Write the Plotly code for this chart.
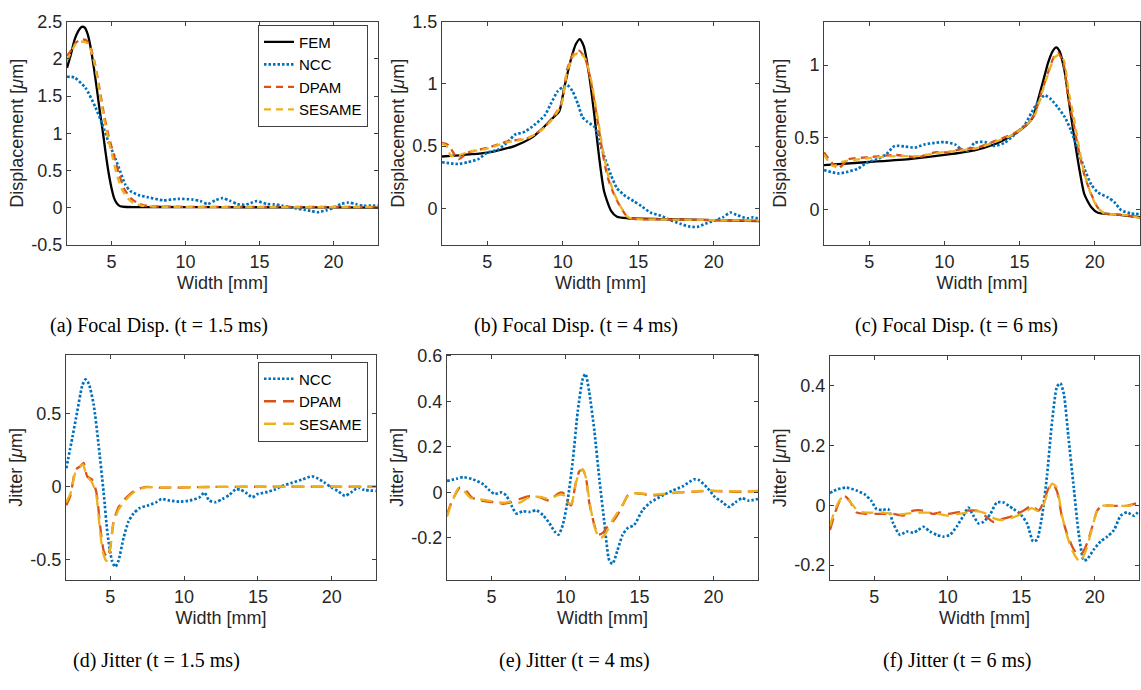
import plotly.graph_objects as go

# ---------------- data ----------------
# (a) Focal displacement, t = 1.5 ms
A_FEM_X = [2.0, 2.25, 2.5, 2.75, 3.0, 3.2, 3.4, 3.6, 3.8, 4.0, 4.2, 4.4, 4.6, 4.8, 5.0, 5.2, 5.4, 5.6, 6.0, 8.0, 12.0, 16.0, 20.0, 23.0]
A_FEM_Y = [1.88, 2.05, 2.25, 2.37, 2.43, 2.42, 2.33, 2.15, 1.9, 1.62, 1.32, 1.05, 0.75, 0.48, 0.27, 0.12, 0.05, 0.02, 0.01, 0.01, 0.008, 0.006, 0.004, 0.003]
A_NCC_X = [2.0, 2.5, 3.25, 3.92, 4.37, 4.82, 5.27, 5.6, 5.94, 6.28, 6.84, 7.5, 8.5, 9.5, 10.5, 11.0, 11.5, 12.0, 12.5, 13.0, 13.5, 14.0, 14.5, 14.8, 15.5, 16.0, 16.5, 17.0, 17.5, 18.0, 18.5, 18.9, 19.5, 20.0, 20.5, 21.0, 21.5, 22.0, 22.5, 23.0]
A_NCC_Y = [1.76, 1.75, 1.61, 1.35, 1.13, 0.875, 0.66, 0.485, 0.31, 0.225, 0.17, 0.14, 0.10, 0.12, 0.11, 0.09, 0.05, 0.10, 0.13, 0.095, 0.05, 0.04, 0.07, 0.09, 0.05, 0.045, 0.03, 0.01, -0.01, -0.025, -0.045, -0.06, -0.035, 0.0, 0.05, 0.07, 0.05, 0.025, 0.03, 0.03]
A_DPAM_X = [2.0, 2.3, 2.6, 3.0, 3.3, 3.6, 3.9, 4.2, 4.5, 4.8, 5.15, 5.5, 5.85, 6.3, 6.8, 7.3, 8.0, 12.0, 23.0]
A_DPAM_Y = [2.04, 2.12, 2.22, 2.26, 2.25, 2.15, 1.92, 1.6, 1.25, 0.97, 0.72, 0.46, 0.26, 0.13, 0.06, 0.03, 0.017, 0.012, 0.01]
A_SES_X = [2.0, 2.3, 2.6, 3.0, 3.3, 3.6, 3.9, 4.2, 4.5, 4.8, 5.1, 5.4, 5.7, 6.1, 6.5, 7.0, 8.0, 12.0, 23.0]
A_SES_Y = [1.98, 2.1, 2.2, 2.23, 2.22, 2.12, 1.9, 1.55, 1.2, 0.92, 0.66, 0.42, 0.25, 0.13, 0.06, 0.03, 0.015, 0.01, 0.01]

# (b) Focal displacement, t = 4 ms
B_FEM_X = [2.0, 5.0, 6.8, 7.9, 8.56, 9.2, 9.77, 10.1, 10.55, 10.87, 11.13, 11.4, 11.75, 12.08, 12.4, 12.74, 13.2, 13.6, 14.3, 17.0, 20.0, 23.0]
B_FEM_Y = [0.416, 0.447, 0.5, 0.564, 0.63, 0.71, 0.78, 0.97, 1.2, 1.32, 1.36, 1.30, 1.07, 0.76, 0.42, 0.135, -0.02, -0.068, -0.08, -0.088, -0.095, -0.104]
B_NCC_X = [2.0, 3.07, 3.7, 4.4, 5.0, 5.7, 6.5, 6.8, 7.5, 8.1, 8.8, 9.2, 9.66, 10.0, 10.3, 10.65, 11.0, 11.3, 11.64, 12.1, 12.4, 12.74, 13.2, 13.6, 14.17, 14.7, 15.2, 15.8, 16.5, 17.1, 17.8, 18.35, 18.9, 19.44, 20.0, 20.6, 21.1, 21.5, 22.2, 22.6, 23.0]
B_NCC_Y = [0.37, 0.356, 0.37, 0.395, 0.447, 0.47, 0.55, 0.59, 0.616, 0.668, 0.746, 0.837, 0.94, 0.975, 0.99, 0.94, 0.84, 0.733, 0.694, 0.655, 0.55, 0.42, 0.265, 0.16, 0.096, 0.057, 0.018, -0.034, -0.06, -0.094, -0.125, -0.146, -0.15, -0.125, -0.1, -0.073, -0.034, -0.052, -0.08, -0.073, -0.086]
B_DPAM_X = [2.0, 2.4, 3.1, 3.7, 5.0, 6.36, 7.7, 8.56, 9.2, 9.9, 10.3, 10.75, 11.1, 11.5, 11.86, 12.3, 12.64, 12.97, 13.4, 13.85, 14.3, 14.7, 17.0, 20.0, 23.0]
B_DPAM_Y = [0.525, 0.51, 0.395, 0.447, 0.486, 0.538, 0.564, 0.63, 0.707, 0.837, 1.12, 1.25, 1.266, 1.2, 1.02, 0.707, 0.447, 0.252, 0.11, 0.005, -0.073, -0.086, -0.09, -0.095, -0.1]
B_SES_X = [2.0, 2.3, 2.6, 3.2, 3.8, 5.0, 6.3, 7.6, 8.5, 9.2, 9.9, 10.3, 10.75, 11.1, 11.5, 11.86, 12.3, 12.64, 12.97, 13.4, 13.85, 14.3, 14.7, 17.0, 20.0, 23.0]
B_SES_Y = [0.52, 0.5, 0.42, 0.43, 0.455, 0.48, 0.53, 0.56, 0.62, 0.7, 0.83, 1.1, 1.23, 1.25, 1.2, 1.04, 0.74, 0.48, 0.28, 0.12, 0.01, -0.07, -0.085, -0.09, -0.095, -0.1]

# (c) Focal displacement, t = 6 ms
C_FEM_X = [2.0, 5.0, 7.8, 10.0, 12.0, 13.3, 14.2, 14.9, 15.55, 15.9, 16.2, 16.55, 16.9, 17.2, 17.43, 17.65, 18.0, 18.3, 18.65, 19.0, 19.3, 19.75, 20.2, 21.1, 22.2, 23.0]
C_FEM_Y = [0.307, 0.329, 0.351, 0.378, 0.41, 0.45, 0.495, 0.54, 0.595, 0.64, 0.75, 0.884, 1.018, 1.096, 1.122, 1.096, 0.951, 0.73, 0.484, 0.262, 0.107, 0.018, -0.022, -0.031, -0.044, -0.053]
C_NCC_X = [2.0, 2.94, 3.6, 4.27, 4.93, 5.6, 6.15, 6.7, 7.37, 8.03, 8.7, 9.36, 10.0, 10.7, 11.1, 11.57, 12.0, 12.7, 13.34, 14.0, 14.67, 15.33, 15.8, 16.2, 16.66, 17.1, 17.54, 18.0, 18.4, 18.87, 19.3, 19.76, 20.2, 20.86, 21.3, 21.75, 22.4, 23.0]
C_NCC_Y = [0.273, 0.25, 0.262, 0.284, 0.329, 0.351, 0.384, 0.44, 0.436, 0.429, 0.451, 0.462, 0.467, 0.451, 0.418, 0.407, 0.462, 0.467, 0.44, 0.462, 0.518, 0.584, 0.673, 0.74, 0.791, 0.762, 0.707, 0.64, 0.551, 0.418, 0.284, 0.173, 0.118, 0.084, 0.051, -0.004, -0.027, -0.031]
C_DPAM_X = [2.0, 2.94, 3.6, 4.93, 6.7, 8.25, 9.36, 10.2, 11.1, 12.2, 13.34, 14.67, 15.55, 16.0, 16.4, 16.9, 17.3, 17.54, 17.9, 18.2, 18.54, 18.87, 19.3, 19.76, 20.2, 20.64, 22.2, 23.0]
C_DPAM_Y = [0.396, 0.284, 0.347, 0.362, 0.378, 0.362, 0.396, 0.396, 0.418, 0.429, 0.473, 0.529, 0.596, 0.662, 0.796, 0.951, 1.062, 1.084, 1.018, 0.796, 0.618, 0.44, 0.24, 0.107, 0.013, -0.027, -0.04, -0.06]
C_SES_X = [2.0, 2.6, 3.2, 4.9, 6.7, 8.25, 9.4, 10.2, 11.1, 12.2, 13.3, 14.6, 15.5, 16.0, 16.4, 16.9, 17.3, 17.6, 17.95, 18.25, 18.6, 18.9, 19.3, 19.76, 20.2, 20.64, 22.2, 23.0]
C_SES_Y = [0.38, 0.3, 0.33, 0.355, 0.37, 0.37, 0.39, 0.4, 0.41, 0.425, 0.465, 0.52, 0.59, 0.65, 0.78, 0.94, 1.05, 1.07, 1.03, 0.82, 0.64, 0.46, 0.25, 0.1, 0.01, -0.025, -0.04, -0.06]

# (d) Jitter, t = 1.5 ms
D_NCC_X = [2.02, 2.43, 2.76, 3.1, 3.32, 3.55, 3.88, 4.2, 4.55, 4.82, 5.11, 5.34, 5.56, 5.9, 6.23, 6.57, 7.0, 7.57, 8.13, 8.47, 9.03, 9.7, 10.37, 11.04, 11.38, 11.7, 12.16, 12.6, 13.05, 13.5, 13.84, 14.17, 14.62, 14.96, 15.5, 16.2, 16.63, 17.3, 17.97, 18.65, 18.98, 19.54, 20.0, 20.4, 20.9, 21.3, 21.8, 22.2, 23.0]
D_NCC_Y = [0.124, 0.334, 0.511, 0.688, 0.732, 0.7, 0.555, 0.29, -0.042, -0.33, -0.507, -0.551, -0.507, -0.352, -0.241, -0.186, -0.148, -0.13, -0.108, -0.086, -0.097, -0.104, -0.097, -0.075, -0.042, -0.097, -0.108, -0.086, -0.06, -0.02, -0.024, -0.042, -0.075, -0.053, -0.042, -0.02, 0.002, 0.024, 0.046, 0.069, 0.058, 0.024, -0.009, -0.031, -0.064, -0.042, -0.009, -0.024, -0.031]
D_DPAM_X = [2.02, 2.3, 2.65, 2.99, 3.2, 3.43, 3.77, 4.06, 4.33, 4.55, 4.78, 5.0, 5.22, 5.56, 5.9, 6.34, 6.79, 7.46, 8.36, 12.0, 16.0, 20.0, 23.0]
D_DPAM_Y = [-0.13, -0.064, 0.113, 0.139, 0.16, 0.069, 0.046, -0.042, -0.285, -0.44, -0.485, -0.418, -0.241, -0.142, -0.097, -0.053, -0.02, -0.004, -0.009, -0.004, -0.002, -0.002, -0.002]
D_SES_X = [2.02, 2.3, 2.65, 3.0, 3.15, 3.4, 3.75, 4.05, 4.3, 4.5, 4.73, 4.95, 5.2, 5.55, 5.9, 6.35, 6.8, 7.5, 8.4, 12.0, 16.0, 20.0, 23.0]
D_SES_Y = [-0.108, -0.05, 0.1, 0.14, 0.15, 0.07, 0.03, -0.06, -0.3, -0.45, -0.51, -0.45, -0.26, -0.16, -0.11, -0.06, -0.025, -0.005, -0.008, -0.004, -0.002, -0.002, -0.002]

# (e) Jitter, t = 4 ms
E_NCC_X = [2.0, 2.65, 3.1, 3.77, 4.44, 4.9, 5.22, 5.67, 6.0, 6.35, 6.68, 7.13, 7.58, 8.03, 8.48, 8.92, 9.26, 9.53, 9.82, 10.16, 10.5, 10.83, 11.17, 11.35, 11.6, 11.95, 12.29, 12.62, 12.96, 13.18, 13.5, 13.86, 14.2, 14.64, 15.2, 15.76, 16.55, 17.2, 17.9, 18.68, 19.0, 19.57, 20.1, 20.6, 21.03, 21.48, 21.93, 22.38, 23.0]
E_NCC_Y = [0.05, 0.06, 0.067, 0.057, 0.036, 0.007, -0.007, 0.0, -0.014, -0.057, -0.093, -0.083, -0.086, -0.079, -0.1, -0.136, -0.171, -0.186, -0.143, -0.029, 0.143, 0.357, 0.5, 0.521, 0.443, 0.271, 0.057, -0.129, -0.3, -0.314, -0.257, -0.186, -0.157, -0.143, -0.079, -0.043, -0.014, 0.007, 0.026, 0.057, 0.054, 0.021, -0.021, -0.043, -0.064, -0.043, -0.026, -0.036, -0.029]
E_DPAM_X = [2.0, 2.3, 2.87, 3.2, 3.65, 4.2, 5.1, 5.8, 6.35, 6.9, 7.58, 8.25, 8.92, 9.37, 9.7, 9.93, 10.16, 10.38, 10.7, 10.94, 11.17, 11.4, 11.6, 11.95, 12.2, 12.5, 12.85, 13.18, 13.5, 13.86, 14.2, 14.53, 15.2, 15.87, 16.77, 17.67, 18.8, 19.9, 21.0, 22.15, 23.0]
E_DPAM_Y = [-0.1, -0.043, 0.021, 0.014, -0.021, -0.036, -0.043, -0.05, -0.043, -0.029, -0.017, -0.021, -0.036, -0.011, 0.0, -0.007, -0.043, -0.057, 0.043, 0.093, 0.1, 0.057, -0.043, -0.143, -0.186, -0.179, -0.15, -0.129, -0.1, -0.057, -0.014, -0.003, -0.007, -0.014, -0.007, 0.0, 0.003, 0.007, 0.003, 0.003, 0.007]
E_SES_X = [2.0, 2.3, 2.8, 3.1, 3.6, 4.2, 5.1, 5.8, 6.4, 6.9, 7.6, 8.3, 8.9, 9.4, 9.7, 9.95, 10.2, 10.4, 10.7, 10.95, 11.15, 11.4, 11.6, 11.95, 12.3, 12.6, 12.9, 13.2, 13.5, 13.9, 14.25, 14.6, 15.2, 15.9, 16.8, 17.7, 18.8, 19.9, 21.0, 22.2, 23.0]
E_SES_Y = [-0.107, -0.05, 0.02, 0.01, -0.025, -0.03, -0.04, -0.045, -0.04, -0.045, -0.02, -0.02, -0.03, -0.015, -0.01, -0.015, -0.045, -0.05, 0.04, 0.09, 0.1, 0.06, -0.03, -0.15, -0.203, -0.19, -0.16, -0.12, -0.09, -0.05, -0.012, -0.004, -0.005, -0.01, -0.005, 0.0, 0.005, 0.008, 0.005, 0.004, 0.006]

# (f) Jitter, t = 6 ms
F_NCC_X = [2.0, 2.43, 3.1, 3.8, 4.36, 4.82, 5.16, 5.6, 5.95, 6.3, 6.75, 7.2, 7.66, 8.0, 8.34, 8.8, 9.25, 9.7, 10.16, 10.6, 11.07, 11.4, 11.75, 12.1, 12.43, 12.9, 13.34, 13.8, 14.14, 14.48, 14.93, 15.39, 15.8, 16.07, 16.4, 16.75, 17.1, 17.43, 17.66, 17.9, 18.2, 18.57, 18.9, 19.25, 19.48, 19.93, 20.39, 20.84, 21.3, 21.75, 22.2, 22.66, 23.0]
F_NCC_Y = [0.041, 0.052, 0.059, 0.049, 0.036, 0.014, -0.013, -0.016, -0.013, -0.061, -0.099, -0.088, -0.092, -0.083, -0.072, -0.088, -0.099, -0.105, -0.099, -0.072, -0.035, -0.008, -0.035, -0.061, -0.056, -0.029, 0.009, 0.009, -0.002, -0.013, -0.029, -0.061, -0.121, -0.115, -0.04, 0.1, 0.284, 0.397, 0.408, 0.37, 0.23, 0.057, -0.094, -0.185, -0.18, -0.148, -0.121, -0.105, -0.083, -0.035, -0.024, -0.035, -0.018]
F_DPAM_X = [2.0, 2.32, 2.66, 3.0, 3.34, 3.8, 4.48, 5.6, 6.3, 6.98, 7.66, 8.34, 9.0, 9.48, 9.93, 10.6, 11.3, 11.98, 12.66, 13.1, 13.8, 14.48, 15.16, 15.73, 16.18, 16.5, 16.86, 17.16, 17.43, 17.77, 18.1, 18.45, 18.8, 19.14, 19.48, 19.82, 20.16, 20.5, 21.3, 22.2, 23.0]
F_DPAM_Y = [-0.083, -0.029, 0.014, 0.03, 0.014, -0.024, -0.029, -0.029, -0.029, -0.035, -0.018, -0.018, -0.029, -0.024, -0.029, -0.024, -0.018, -0.018, -0.04, -0.056, -0.045, -0.035, -0.018, -0.002, -0.018, 0.009, 0.057, 0.07, 0.046, -0.04, -0.094, -0.137, -0.164, -0.16, -0.126, -0.072, -0.018, -0.002, -0.002, -0.002, 0.009]
F_SES_X = [2.0, 2.3, 2.7, 3.0, 3.4, 3.9, 4.5, 5.6, 6.3, 7.0, 7.7, 8.4, 9.0, 9.5, 10.0, 10.6, 11.3, 12.0, 12.7, 13.2, 13.8, 14.5, 15.2, 15.7, 16.2, 16.5, 16.85, 17.1, 17.4, 17.75, 18.1, 18.45, 18.8, 19.0, 19.4, 19.8, 20.15, 20.5, 21.3, 22.2, 23.0]
F_SES_Y = [-0.07, -0.02, 0.02, 0.027, 0.01, -0.02, -0.025, -0.025, -0.03, -0.03, -0.025, -0.025, -0.025, -0.03, -0.035, -0.03, -0.025, -0.02, -0.03, -0.045, -0.05, -0.04, -0.025, -0.01, -0.02, 0.0, 0.05, 0.072, 0.06, -0.03, -0.1, -0.15, -0.18, -0.19, -0.15, -0.08, -0.02, -0.002, -0.002, -0.002, 0.006]

X_TICKS = [5, 10, 15, 20]
X_TICKTEXT = ["5", "10", "15", "20"]
Y_TICKS_A = [-0.5, 0, 0.5, 1, 1.5, 2, 2.5]
Y_TICKTEXT_A = ["-0.5", "0", "0.5", "1", "1.5", "2", "2.5"]
Y_TICKS_B = [0, 0.5, 1, 1.5]
Y_TICKTEXT_B = ["0", "0.5", "1", "1.5"]
Y_TICKS_C = [0, 0.5, 1]
Y_TICKTEXT_C = ["0", "0.5", "1"]
Y_TICKS_D = [-0.5, 0, 0.5]
Y_TICKTEXT_D = ["-0.5", "0", "0.5"]
Y_TICKS_E = [-0.2, 0, 0.2, 0.4, 0.6]
Y_TICKTEXT_E = ["-0.2", "0", "0.2", "0.4", "0.6"]
Y_TICKS_F = [-0.2, 0, 0.2, 0.4]
Y_TICKTEXT_F = ["-0.2", "0", "0.2", "0.4"]

CAPTIONS = ["(a) Focal Disp. (t = 1.5 ms)", "(b) Focal Disp. (t = 4 ms)", "(c) Focal Disp. (t = 6 ms)",
            "(d) Jitter (t = 1.5 ms)", "(e) Jitter (t = 4 ms)", "(f) Jitter (t = 6 ms)"]

# ---------------- styling ----------------
W, H = 1141, 690
BLUE = "#0072BD"
RED = "#D95319"
YEL = "#EDB120"
AXC = "#404040"
TXT = "#262626"
FONT = "Liberation Sans"
FS = 18

fig = go.Figure()

# pixel boxes: (left, right, top, bottom)
boxes = [
    (67, 378, 12, 242), (442, 759, 12, 242), (824, 1140, 12, 242),
    (66, 376, 355, 587), (447, 758, 355, 587), (830, 1139, 356, 587),
]
yranges = [[-0.5, 2.5], [-0.295, 1.5], [-0.245, 1.3], [-0.64, 0.9], [-0.385, 0.605], [-0.25, 0.5]]
yticks = [(Y_TICKS_A, Y_TICKTEXT_A), (Y_TICKS_B, Y_TICKTEXT_B), (Y_TICKS_C, Y_TICKTEXT_C),
          (Y_TICKS_D, Y_TICKTEXT_D), (Y_TICKS_E, Y_TICKTEXT_E), (Y_TICKS_F, Y_TICKTEXT_F)]
ytitles = ["Displacement [<i>μ</i>m]"] * 3 + ["Jitter [<i>μ</i>m]"] * 3

top_data = [
    (A_FEM_X, A_FEM_Y, A_NCC_X, A_NCC_Y, A_DPAM_X, A_DPAM_Y, A_SES_X, A_SES_Y),
    (B_FEM_X, B_FEM_Y, B_NCC_X, B_NCC_Y, B_DPAM_X, B_DPAM_Y, B_SES_X, B_SES_Y),
    (C_FEM_X, C_FEM_Y, C_NCC_X, C_NCC_Y, C_DPAM_X, C_DPAM_Y, C_SES_X, C_SES_Y),
]
bot_data = [
    (D_NCC_X, D_NCC_Y, D_DPAM_X, D_DPAM_Y, D_SES_X, D_SES_Y),
    (E_NCC_X, E_NCC_Y, E_DPAM_X, E_DPAM_Y, E_SES_X, E_SES_Y),
    (F_NCC_X, F_NCC_Y, F_DPAM_X, F_DPAM_Y, F_SES_X, F_SES_Y),
]

SM = 0.6
for i, d in enumerate(top_data):
    xa = "x" if i == 0 else f"x{i+1}"
    ya = "y" if i == 0 else f"y{i+1}"
    fx, fy, nx, ny, dx, dy, sx, sy = d
    show = (i == 0)
    fig.add_trace(go.Scatter(x=fx, y=fy, mode="lines", name="FEM", xaxis=xa, yaxis=ya,
                             line=dict(color="black", width=2.3, shape="spline", smoothing=SM),
                             showlegend=show, legend="legend"))
    fig.add_trace(go.Scatter(x=nx, y=ny, mode="lines", name="NCC", xaxis=xa, yaxis=ya,
                             line=dict(color=BLUE, width=2.7, dash="2.5px,2px", shape="spline", smoothing=SM),
                             showlegend=show, legend="legend"))
    fig.add_trace(go.Scatter(x=dx, y=dy, mode="lines", name="DPAM", xaxis=xa, yaxis=ya,
                             line=dict(color=RED, width=2.3, dash="7px,5px", shape="spline", smoothing=SM),
                             showlegend=show, legend="legend"))
    fig.add_trace(go.Scatter(x=sx, y=sy, mode="lines", name="SESAME", xaxis=xa, yaxis=ya,
                             line=dict(color=YEL, width=2.3, dash="7px,5px", shape="spline", smoothing=SM),
                             showlegend=show, legend="legend"))

for j, d in enumerate(bot_data):
    i = j + 3
    xa = f"x{i+1}"
    ya = f"y{i+1}"
    nx, ny, dx, dy, sx, sy = d
    show = (j == 0)
    fig.add_trace(go.Scatter(x=nx, y=ny, mode="lines", name="NCC", xaxis=xa, yaxis=ya,
                             line=dict(color=BLUE, width=2.7, dash="2.5px,2px", shape="spline", smoothing=SM),
                             showlegend=show, legend="legend2"))
    fig.add_trace(go.Scatter(x=dx, y=dy, mode="lines", name="DPAM", xaxis=xa, yaxis=ya,
                             line=dict(color=RED, width=2.3, dash="12px,7px", shape="spline", smoothing=SM),
                             showlegend=show, legend="legend2"))
    fig.add_trace(go.Scatter(x=sx, y=sy, mode="lines", name="SESAME", xaxis=xa, yaxis=ya,
                             line=dict(color=YEL, width=2.3, dash="12px,7px", shape="spline", smoothing=SM),
                             showlegend=show, legend="legend2"))

layout = dict(
    width=W, height=H, margin=dict(l=0, r=0, t=0, b=0),
    paper_bgcolor="white", plot_bgcolor="white",
    font=dict(family=FONT, size=FS, color=TXT),
    showlegend=True,
)
for i, (l, r, t, b) in enumerate(boxes):
    xk = "xaxis" if i == 0 else f"xaxis{i+1}"
    yk = "yaxis" if i == 0 else f"yaxis{i+1}"
    ya = "y" if i == 0 else f"y{i+1}"
    xa = "x" if i == 0 else f"x{i+1}"
    common = dict(showline=True, linecolor=AXC, linewidth=1, mirror="ticks", ticks="inside",
                  ticklen=4, tickcolor=AXC, showgrid=False, zeroline=False,
                  tickfont=dict(family=FONT, size=FS, color=TXT))
    layout[xk] = dict(domain=[l / W, r / W], range=[2, 23], anchor=ya,
                      tickvals=X_TICKS, ticktext=X_TICKTEXT,
                      title=dict(text="Width [mm]", standoff=5, font=dict(family=FONT, size=FS, color=TXT)),
                      **common)
    tv, tt = yticks[i]
    layout[yk] = dict(domain=[1 - b / H, 1 - t / H], range=yranges[i], anchor=xa,
                      tickvals=tv, ticktext=tt,
                      title=dict(text=ytitles[i], standoff=3, font=dict(family=FONT, size=FS, color=TXT)),
                      **common)

layout["legend"] = dict(x=258 / W, y=1 - 15 / H, xanchor="left", yanchor="top",
                        bgcolor="white", bordercolor=AXC, borderwidth=1,
                        font=dict(family=FONT, size=15, color="black"),
                        itemwidth=30, tracegroupgap=0)
layout["legend2"] = dict(x=258 / W, y=1 - 362 / H, xanchor="left", yanchor="top",
                         bgcolor="white", bordercolor=AXC, borderwidth=1,
                         font=dict(family=FONT, size=15, color="black"),
                         itemwidth=30, tracegroupgap=0)

cap_pos = [(159, 325), (576, 325), (956, 325), (157, 670), (574, 670), (957, 670)]
annotations = []
for (cx, cy), txt in zip(cap_pos, CAPTIONS):
    annotations.append(dict(x=cx / W, y=1 - cy / H, xref="paper", yref="paper", text=txt,
                            showarrow=False, xanchor="center", yanchor="middle",
                            font=dict(family="Liberation Serif", size=20, color="black")))
layout["annotations"] = annotations

fig.update_layout(**layout)
fig.write_html("out.html")
